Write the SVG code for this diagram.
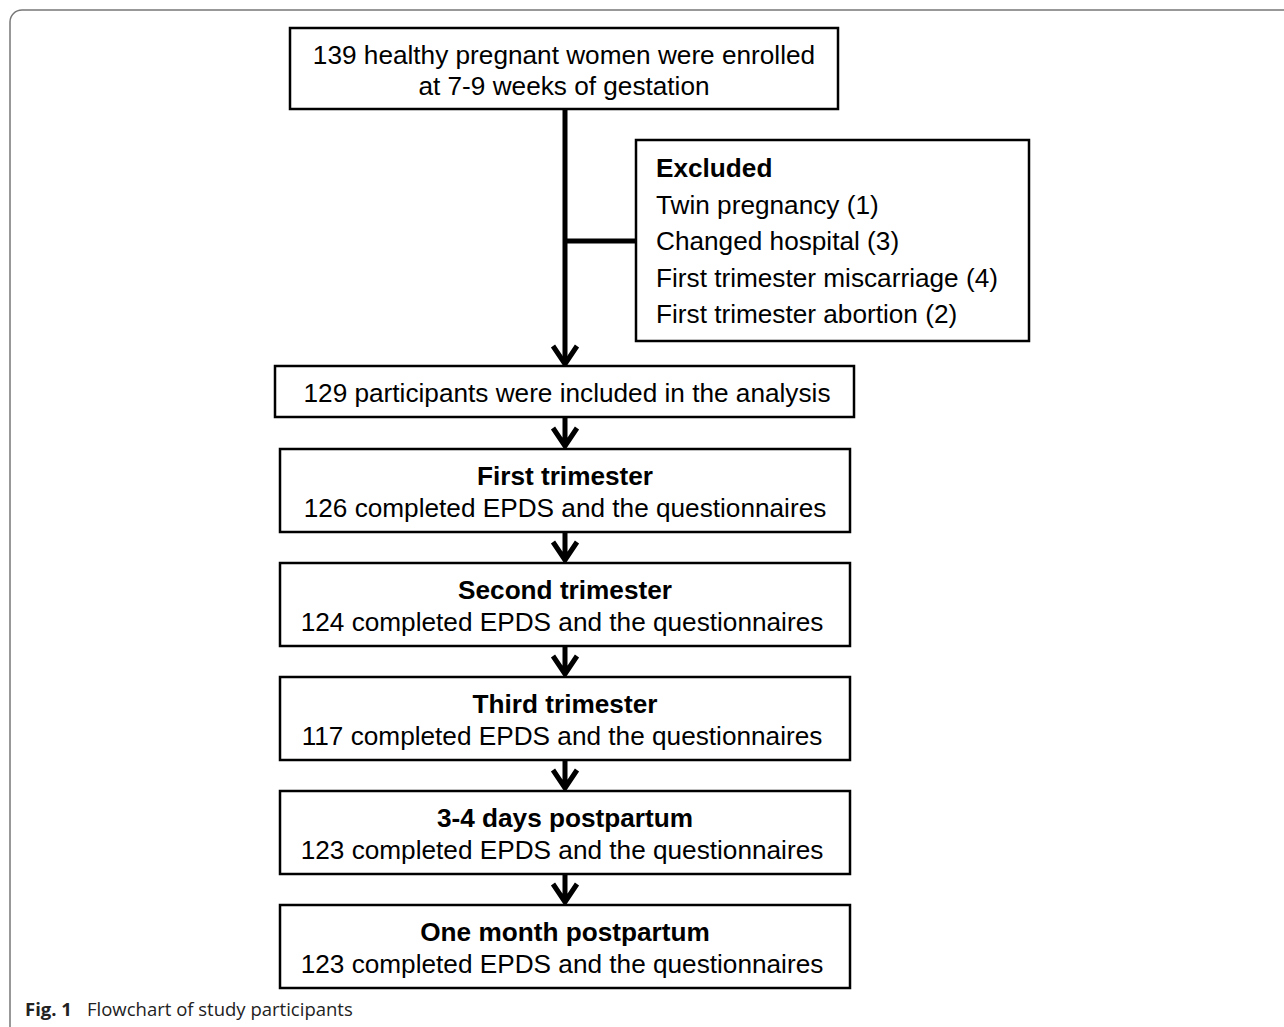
<svg xmlns="http://www.w3.org/2000/svg" width="1284" height="1027" viewBox="0 0 1284 1027">
<style>
.box{fill:#fff;stroke:#000;stroke-width:2.5}
.t{font-family:"Liberation Sans",Arial,sans-serif;font-size:26.2px;fill:#000}
.c{text-anchor:middle}
.b{font-weight:bold}
.con{fill:none;stroke:#000;stroke-width:5}
.cap{font-family:"Open Sans","Noto Sans",sans-serif;font-size:18.5px;fill:#222}
</style>
<rect x="10" y="10" width="1300" height="1040" rx="12" fill="#fff" stroke="#777" stroke-width="1.5"/>
<g id="connectors">
<path class="con" d="M565 109V364M565 241H636"/>
<path class="con" d="M553 346L565 364L577 346"/>
<path class="con" d="M565 417V446M553 428L565 446L577 428"/>
<path class="con" d="M565 532V560M553 542L565 560L577 542"/>
<path class="con" d="M565 646V674M553 656L565 674L577 656"/>
<path class="con" d="M565 760V788M553 770L565 788L577 770"/>
<path class="con" d="M565 874V902M553 884L565 902L577 884"/>
</g>
<g id="enrolled">
<rect class="box" x="290" y="28" width="548" height="81"/>
<text class="t c" x="564" y="64">139 healthy pregnant women were enrolled</text>
<text class="t c" x="564" y="95">at 7-9 weeks of gestation</text>
</g>
<g id="excluded">
<rect class="box" x="636" y="140" width="393" height="201"/>
<text class="t b" x="656" y="177">Excluded</text>
<text class="t" x="656" y="214">Twin pregnancy (1)</text>
<text class="t" x="656" y="250">Changed hospital (3)</text>
<text class="t" x="656" y="287">First trimester miscarriage (4)</text>
<text class="t" x="656" y="323">First trimester abortion (2)</text>
</g>
<g id="included">
<rect class="box" x="275" y="366" width="579" height="51"/>
<text class="t c" x="567" y="402">129 participants were included in the analysis</text>
</g>
<g id="first">
<rect class="box" x="280" y="449" width="570" height="83"/>
<text class="t c b" x="565" y="485">First trimester</text>
<text class="t c" x="565" y="517">126 completed EPDS and the questionnaires</text>
</g>
<g id="second">
<rect class="box" x="280" y="563" width="570" height="83"/>
<text class="t c b" x="565" y="599">Second trimester</text>
<text class="t c" x="562" y="631">124 completed EPDS and the questionnaires</text>
</g>
<g id="third">
<rect class="box" x="280" y="677" width="570" height="83"/>
<text class="t c b" x="565" y="713">Third trimester</text>
<text class="t c" x="562" y="745">117 completed EPDS and the questionnaires</text>
</g>
<g id="postpartum34">
<rect class="box" x="280" y="791" width="570" height="83"/>
<text class="t c b" x="565" y="827">3-4 days postpartum</text>
<text class="t c" x="562" y="859">123 completed EPDS and the questionnaires</text>
</g>
<g id="onemonth">
<rect class="box" x="280" y="905" width="570" height="83"/>
<text class="t c b" x="565" y="941">One month postpartum</text>
<text class="t c" x="562" y="973">123 completed EPDS and the questionnaires</text>
</g>
<text class="cap" x="25" y="1016"><tspan font-weight="bold">Fig. 1</tspan><tspan x="87">Flowchart of study participants</tspan></text>
</svg>
